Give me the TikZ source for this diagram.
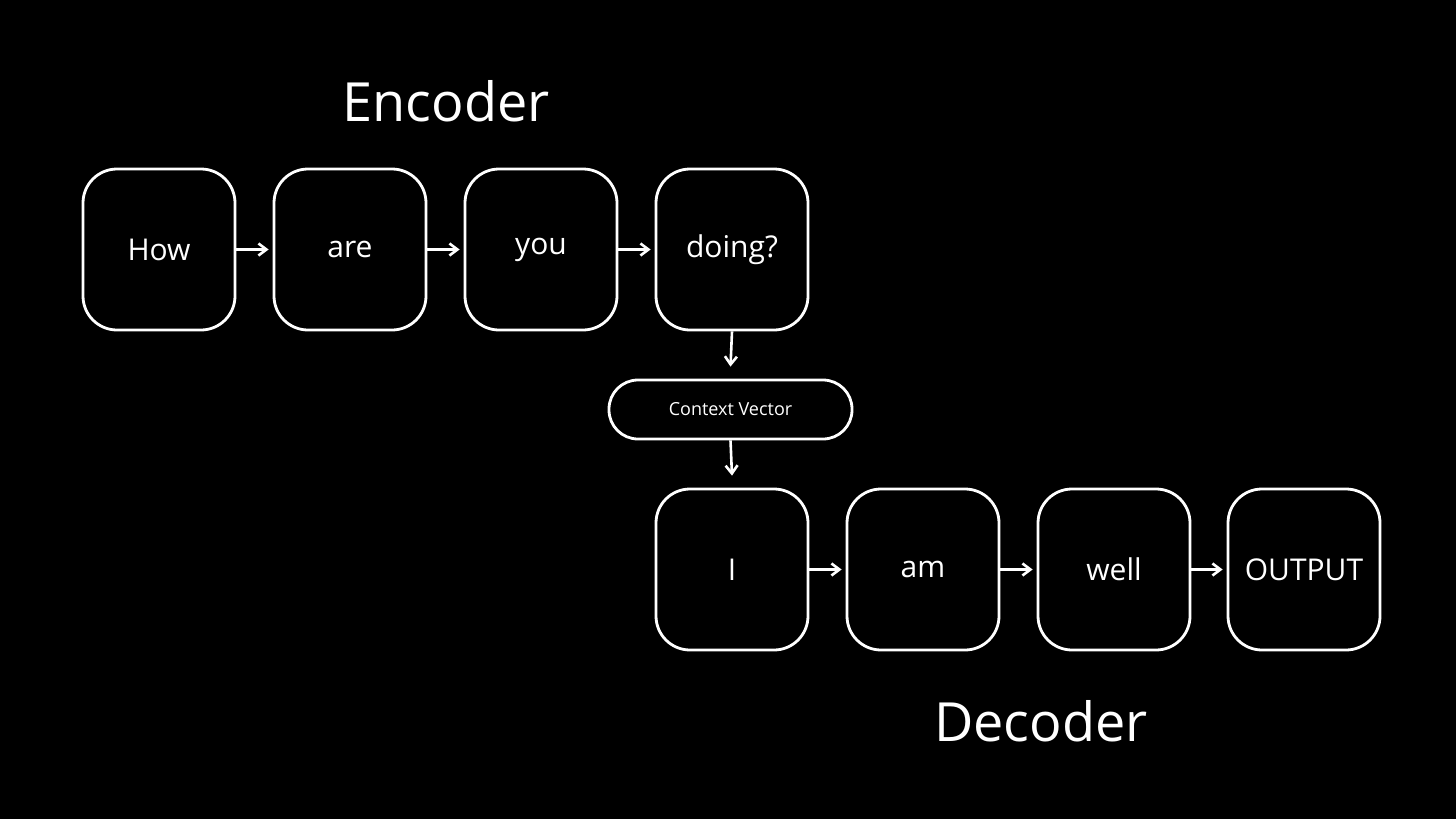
\documentclass[tikz,border=0pt]{standalone}
\usepackage{fontspec}
\setmainfont{Open Sans}
\usetikzlibrary{arrows.meta}
\begin{document}
\begin{tikzpicture}[x=0.5pt,y=-0.5pt,
  box/.style={draw=white,line width=1.4pt,rounded corners=17pt,minimum width=76pt,minimum height=80.5pt,text=white,font=\fontsize{15}{18}\selectfont},
  pill/.style={draw=white,line width=1.4pt,rounded corners=14.5pt,minimum width=121.5pt,minimum height=29.5pt,text=white,font=\fontsize{9}{11}\selectfont},
  arr/.style={draw=white,line width=1.3pt,-{Straight Barb[length=4pt,width=6pt]}},
  title/.style={text=white,font=\fontsize{27}{32}\selectfont}]
\fill[black] (0,0) rectangle (1456,819);
\useasboundingbox (0,0) rectangle (1456,819);
\node[title] (enc) at (446,101) {Encoder};
\node[title] (dec) at (1041,721) {Decoder};
\node[box] (how) at (159,249.5) {How};
\node[box] (are) at (350,249.5) {are};
\node[box] (you) at (541,249.5) {you};
\node[box] (doing) at (732,249.5) {doing?};
\node[pill] (ctx) at (730.5,409.5) {Context Vector};
\node[box] (i) at (732,569.5) {I};
\node[box] (am) at (923,569.5) {am};
\node[box] (well) at (1114,569.5) {well};
\node[box] (out) at (1304,569.5) {OUTPUT};
\draw[arr] (how.east) -- ([xshift=-2pt]are.west);
\draw[arr] (are.east) -- ([xshift=-2pt]you.west);
\draw[arr] (you.east) -- ([xshift=-2pt]doing.west);
\draw[arr] (doing.south) -- ([yshift=6pt]ctx.north);
\draw[arr] (ctx.south) -- ([yshift=6pt]i.north);
\draw[arr] (i.east) -- ([xshift=-2pt]am.west);
\draw[arr] (am.east) -- ([xshift=-2pt]well.west);
\draw[arr] (well.east) -- ([xshift=-2pt]out.west);
\end{tikzpicture}
\end{document}
